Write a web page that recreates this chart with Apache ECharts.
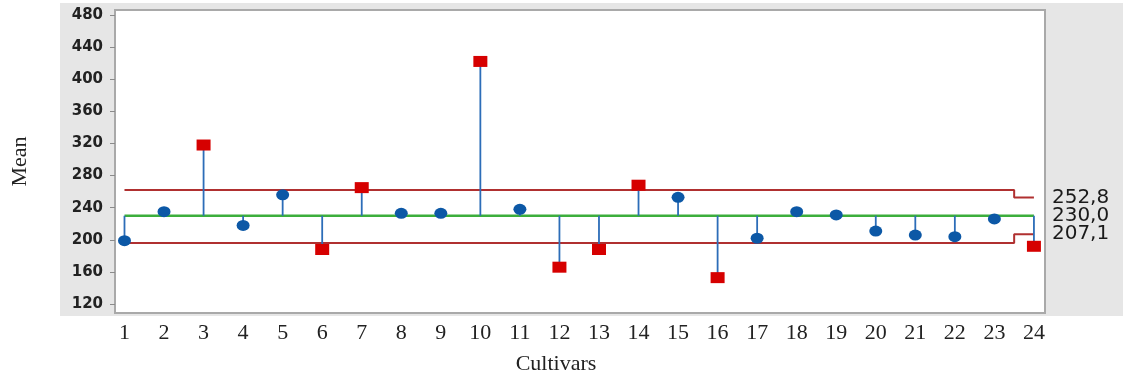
<!DOCTYPE html>
<html><head><meta charset="utf-8">
<script src="https://cdn.jsdelivr.net/npm/echarts@6/dist/echarts.min.js"></script>
<style>html,body{margin:0;padding:0;background:#fff}#c{width:1123px;height:381px}</style>
</head><body><div id="c"></div>
<script>
var cultivars = [1,2,3,4,5,6,7,8,9,10,11,12,13,14,15,16,17,18,19,20,21,22,23,24];
var means = [199,235,318,218,256,188,265,233,233,422,238,166,188,268,253,153,202,235,231,211,206,204,226,192];
var centerLine = 230.0;
var ucl = [262,262,262,262,262,262,262,262,262,262,262,262,262,262,262,262,262,262,262,262,262,262,262,252.8];
var lcl = [196,196,196,196,196,196,196,196,196,196,196,196,196,196,196,196,196,196,196,196,196,196,196,207.1];
var yTicks = [120,160,200,240,280,320,360,400,440,480];

var inPts = [], outPts = [], stems = [];
cultivars.forEach(function(c,i){
  var v = means[i];
  stems.push([c, v]);
  if (v > ucl[i] || v < lcl[i]) outPts.push([c, v]); else inPts.push([c, v]);
});
var fmt = function(p){ return p.value[1].toFixed(1).replace('.', ','); };
var endLbl = {show:true, formatter: fmt, distance: 18, color:'#1a1a1a',
  fontFamily:'DejaVu Sans', fontSize:20, align:'left', verticalAlign:'middle'};

var chart = echarts.init(document.getElementById('c'), null, {renderer:'canvas'});
chart.setOption({
  animation:false,
  backgroundColor:'#ffffff',
  graphic:[{type:'rect', z:-10, silent:true, shape:{x:60,y:3,width:1063,height:313}, style:{fill:'#e6e6e6'}}],
  grid:{left:115,right:78,top:10,bottom:68,outerBoundsMode:'none',containLabel:false,
    show:true,backgroundColor:'#ffffff',borderColor:'#a9a9a9',borderWidth:2},
  xAxis:{type:'value',min:0.76,max:24.28,
    name:'Cultivars',nameLocation:'middle',nameGap:40,
    nameTextStyle:{fontFamily:'Liberation Serif',fontSize:22,color:'#222',padding:[0,48,0,0]},
    axisLine:{show:false},axisTick:{show:false},splitLine:{show:false},
    axisLabel:{customValues:cultivars,margin:9,fontFamily:'Liberation Serif',fontSize:22,color:'#222',
      formatter:function(v){return String(Math.round(v));}}},
  yAxis:{type:'value',min:109,max:486,
    name:'Mean',nameLocation:'middle',nameGap:84,nameRotate:90,
    nameTextStyle:{fontFamily:'Liberation Serif',fontSize:22,color:'#222'},
    axisLine:{show:false},splitLine:{show:false},
    axisTick:{show:true,customValues:yTicks,length:5,lineStyle:{color:'#8a8a8a',width:1}},
    axisLabel:{customValues:yTicks,margin:12,fontFamily:'DejaVu Sans',fontWeight:'bold',fontSize:15,color:'#222'}},
  series:[
    {type:'line',name:'UCL',step:'middle',showSymbol:false,symbol:'none',z:3,
      data:cultivars.map(function(c,i){return [c,ucl[i]];}),
      lineStyle:{color:'#b03030',width:2},endLabel:endLbl},
    {type:'line',name:'LCL',step:'middle',showSymbol:false,symbol:'none',z:3,
      data:cultivars.map(function(c,i){return [c,lcl[i]];}),
      lineStyle:{color:'#b03030',width:2},endLabel:endLbl},
    {type:'line',name:'Center',showSymbol:false,symbol:'none',z:4,
      data:[[cultivars[0],centerLine],[cultivars[cultivars.length-1],centerLine]],
      lineStyle:{color:'#3cae3c',width:2.5},endLabel:endLbl},
    {type:'custom',name:'stems',z:5,data:stems,
      renderItem:function(params,api){
        var x = api.value(0), v = api.value(1);
        var p0 = api.coord([x, centerLine]), p1 = api.coord([x, v]);
        return {type:'line',shape:{x1:p0[0],y1:p0[1],x2:p1[0],y2:p1[1]},
          style:{stroke:'#2c6db8',lineWidth:1.8}};
      }},
    {type:'scatter',name:'in',z:6,data:inPts,symbol:'circle',symbolSize:[13,11],
      itemStyle:{color:'#0c58a6',opacity:1}},
    {type:'scatter',name:'out',z:6,data:outPts,symbol:'rect',symbolSize:[14,11],
      itemStyle:{color:'#d60000',opacity:1}}
  ]
});
</script></body></html>
